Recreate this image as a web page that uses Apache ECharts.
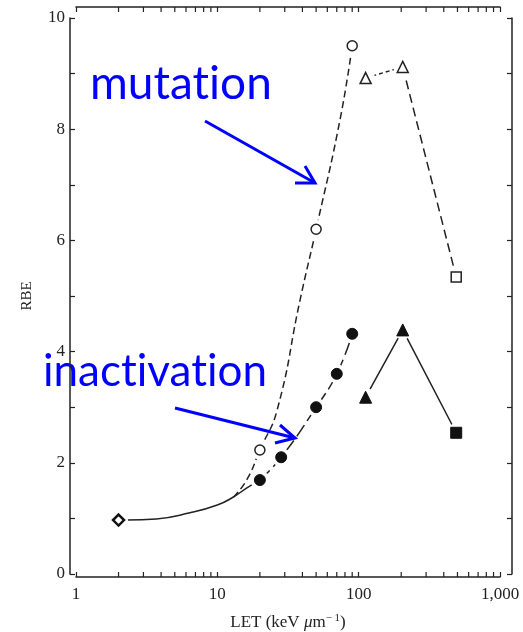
<!DOCTYPE html>
<html>
<head>
<meta charset="utf-8">
<script src="https://cdn.jsdelivr.net/npm/echarts@6/dist/echarts.min.js"></script>
<style>
  html, body { margin: 0; padding: 0; background: #fff; }
  #chart { width: 523px; height: 632px; }
</style>
</head>
<body>
<div id="chart"></div>
<script>
// ---- measured points: LET (keV/µm) vs RBE ----
const mutCircleLET = [20, 50, 90];
const mutCircleRBE = [2.23, 6.2, 9.5];
const mutTriLET = [112, 205];
const mutTriRBE = [8.92, 9.12];
const mutSquareLET = [490];
const mutSquareRBE = [5.34];

const inactCircleLET = [20, 28.3, 50, 70, 90];
const inactCircleRBE = [1.69, 2.1, 3.0, 3.6, 4.32];
const inactTriLET = [112, 205];
const inactTriRBE = [3.18, 4.39];
const inactSquareLET = [490];
const inactSquareRBE = [2.54];
const refLET = [2];
const refRBE = [0.97];

// ---- fitted curves ----
const inactFitLowLET = [2.3, 3.7, 6.4, 10, 12.9, 16.2, 20];
const inactFitLowRBE = [0.97, 0.99, 1.1, 1.24, 1.38, 1.55, 1.69];
const inactFitHighLET = [20, 28.3, 50, 70, 90];
const inactFitHighRBE = [1.69, 2.1, 3.0, 3.6, 4.32];
const mutFitLET = [13, 16.2, 20, 26.5, 38.5, 50, 73.8, 90];
const mutFitRBE = [1.38, 1.7, 2.23, 2.95, 4.93, 6.2, 8.17, 9.5];

// ---- axis ticks ----
const xTickValues = [1, 10, 100, 1000];
const xTickLabels = ['1', '10', '100', '1,000'];
const xMinorValues = [2, 3, 4, 5, 6, 7, 8, 9, 20, 30, 40, 50, 60, 70, 80, 90,
                      200, 300, 400, 500, 600, 700, 800, 900];
const yTickValues = [0, 2, 4, 6, 8, 10];
const yTickLabels = ['0', '2', '4', '6', '8', '10'];

const pairs = (xs, ys) => xs.map((x, i) => [x, ys[i]]);

const INK = '#222';
const SERIF = '"Liberation Serif", "DejaVu Serif", serif';
const BOTTOM_OFFSET = 3;
const TOP_OFFSET = 11;
const NOTE_FONT = 'Lato, "Open Sans", sans-serif';

const chart = echarts.init(document.getElementById('chart'), null, { renderer: 'canvas' });

function fitLine(data, dash, smooth) {
  return {
    type: 'line', data, showSymbol: false, smooth: smooth, z: 2, silent: true,
    lineStyle: { color: INK, width: 1.5, type: dash }
  };
}

function markers(data, symbol, size, filled) {
  return {
    type: 'scatter', data, symbol, symbolSize: size, z: 4, silent: true,
    itemStyle: filled
      ? { color: '#111', borderColor: '#111', borderWidth: 1, opacity: 1 }
      : { color: '#fff', borderColor: INK, borderWidth: 1.5, opacity: 1 }
  };
}

const allPoints = [].concat(
  pairs(mutCircleLET, mutCircleRBE), pairs(mutTriLET, mutTriRBE), pairs(mutSquareLET, mutSquareRBE),
  pairs(inactCircleLET, inactCircleRBE), pairs(inactTriLET, inactTriRBE),
  pairs(inactSquareLET, inactSquareRBE), pairs(refLET, refRBE)
);

const axisLine = { show: true, onZero: false, lineStyle: { color: INK, width: 1.5 } };
const axisTick = { show: true, inside: true, length: 5, lineStyle: { color: INK, width: 1.2 } };

const option = {
  animation: false,
  backgroundColor: '#fff',
  grid: { left: 76, right: 23, top: 18, bottom: 58, containLabel: false, outerBoundsMode: 'none' },
  xAxis: [
    {
      type: 'log', logBase: 10, min: 1, max: 1000, position: 'bottom', offset: BOTTOM_OFFSET,
      axisLine, axisTick,
      splitLine: { show: false },
      axisLabel: {
        margin: 9, fontFamily: SERIF, fontSize: 17, color: '#222',
        formatter: v => {
          const i = xTickValues.indexOf(Math.round(v));
          return i >= 0 ? xTickLabels[i] : '';
        }
      },
      name: 'LET (keV {i|μ}m{s|− 1})',
      nameLocation: 'middle', nameGap: 36,
      nameTextStyle: {
        fontFamily: SERIF, fontSize: 17, color: '#222',
        rich: {
          i: { fontFamily: SERIF, fontSize: 17, fontStyle: 'italic', color: '#222' },
          s: { fontFamily: SERIF, fontSize: 11, color: '#222', verticalAlign: 'top', padding: [0, 0, 8, 0] }
        }
      }
    },
    {
      type: 'log', logBase: 10, min: 1, max: 1000, position: 'top', offset: TOP_OFFSET,
      axisLine, axisTick,
      axisLabel: { show: false },
      splitLine: { show: false }
    }
  ],
  yAxis: [
    {
      type: 'value', min: 0, max: 10, interval: 1, position: 'left', offset: 6,
      axisLine, axisTick,
      splitLine: { show: false },
      axisLabel: {
        margin: 5, fontFamily: SERIF, fontSize: 17, color: '#222',
        formatter: v => {
          const i = yTickValues.indexOf(v);
          return i >= 0 ? yTickLabels[i] : '';
        }
      },
      name: 'RBE', nameLocation: 'middle', nameGap: 35,
      nameTextStyle: { fontFamily: SERIF, fontSize: 15, color: '#222' }
    },
    {
      type: 'value', min: 0, max: 10, interval: 1, position: 'right', offset: 12,
      axisLine, axisTick,
      axisLabel: { show: false },
      splitLine: { show: false }
    }
  ],
  series: [
    // minor log ticks on the top and bottom axes
    {
      type: 'custom', silent: true, clip: false, z: 5,
      data: xMinorValues.map(v => [v, 0]),
      renderItem(params, api) {
        const x = api.coord([api.value(0), 0])[0];
        const yb = api.coord([1, 0])[1] + BOTTOM_OFFSET;
        const yt = api.coord([1, 10])[1] - TOP_OFFSET;
        return {
          type: 'group',
          children: [
            { type: 'line', shape: { x1: x, y1: yb, x2: x, y2: yb - 5 }, style: { stroke: INK, lineWidth: 1.2 } },
            { type: 'line', shape: { x1: x, y1: yt, x2: x, y2: yt + 5 }, style: { stroke: INK, lineWidth: 1.2 } }
          ]
        };
      }
    },
    // curves and connecting lines
    fitLine(pairs(inactFitLowLET, inactFitLowRBE), 'solid', true),
    fitLine(pairs(inactFitHighLET, inactFitHighRBE), [14, 5], true),
    fitLine(pairs(mutFitLET, mutFitRBE), [7, 4], true),
    fitLine(pairs(mutTriLET, mutTriRBE), [4, 3], false),
    fitLine([[mutTriLET[1], mutTriRBE[1]], [mutSquareLET[0], mutSquareRBE[0]]], [9, 5], false),
    fitLine(pairs(inactTriLET.concat(inactSquareLET), inactTriRBE.concat(inactSquareRBE)), 'solid', false),
    // white halos leave a small gap between lines and symbols
    {
      type: 'scatter', data: allPoints, symbol: 'circle', symbolSize: 19, z: 3, silent: true,
      itemStyle: { color: '#fff', opacity: 1 }
    },
    markers(pairs(mutCircleLET, mutCircleRBE), 'circle', 10, false),
    markers(pairs(mutTriLET, mutTriRBE), 'triangle', 11, false),
    markers(pairs(mutSquareLET, mutSquareRBE), 'rect', 10, false),
    markers(pairs(inactCircleLET, inactCircleRBE), 'circle', 11, true),
    markers(pairs(inactTriLET, inactTriRBE), 'triangle', 12, true),
    markers(pairs(inactSquareLET, inactSquareRBE), 'rect', 11, true),
    {
      type: 'scatter', data: pairs(refLET, refRBE), symbol: 'diamond', symbolSize: 11, z: 4, silent: true,
      itemStyle: { color: '#fff', borderColor: '#111', borderWidth: 2.5, opacity: 1 }
    }
  ],
  graphic: [
    // annotation labels; split into runs so the letters are set one by one without ligatures
    {
      type: 'text', left: 90, top: 61, silent: true,
      style: {
        text: '{a|mutat}{a|ion}', fill: '#0000ff',
        rich: { a: { font: '46px ' + NOTE_FONT, fill: '#0000ff' } }
      }
    },
    {
      type: 'text', left: 43, top: 350, silent: true,
      style: {
        text: '{a|inact}{a|ivat}{a|ion}', fill: '#0000ff',
        rich: { a: { font: '44px ' + NOTE_FONT, fill: '#0000ff' } }
      }
    },
    {
      type: 'polyline', silent: true,
      shape: { points: [[205, 121], [315, 183]] },
      style: { stroke: '#0000ff', lineWidth: 3, fill: null }
    },
    {
      type: 'polyline', silent: true,
      shape: { points: [[295, 183], [315, 183], [305, 166]] },
      style: { stroke: '#0000ff', lineWidth: 3, fill: null }
    },
    {
      type: 'polyline', silent: true,
      shape: { points: [[175, 408], [295, 438]] },
      style: { stroke: '#0000ff', lineWidth: 3, fill: null }
    },
    {
      type: 'polyline', silent: true,
      shape: { points: [[275, 443], [295, 438], [280, 425]] },
      style: { stroke: '#0000ff', lineWidth: 3, fill: null }
    }
  ]
};

chart.setOption(option);
</script>
</body>
</html>
